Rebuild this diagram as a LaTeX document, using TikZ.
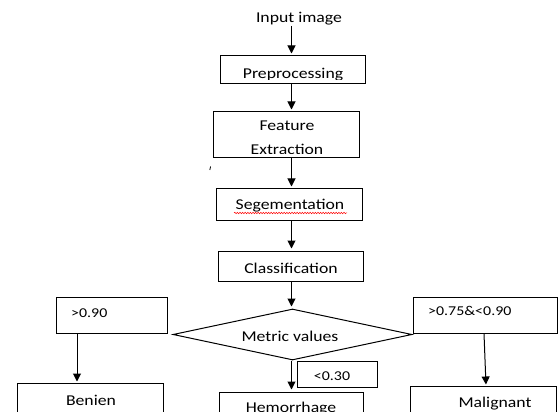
\documentclass[tikz,border=0pt]{standalone}
\usepackage{fontspec}
\setmainfont{Carlito}[FakeStretch=1.18]
\usetikzlibrary{arrows.meta,shapes.geometric,decorations.pathmorphing}
\begin{document}
\begin{tikzpicture}[x=1pt,y=-1pt,
  box/.style={draw,line width=1pt,rectangle,inner sep=0pt},
  txt/.style={inner sep=0pt,anchor=base,font=\fontsize{15}{18}\selectfont},
  smalltxt/.style={inner sep=0pt,anchor=base,font=\fontsize{13.5}{16}\selectfont},
  arr/.style={line width=1pt,-{Triangle[width=8pt,length=8pt]},shorten >=2pt}]
\useasboundingbox (0,0) rectangle (558,412);
\coordinate (col) at (291.5,0);
\coordinate (bcol) at (77,0);
\coordinate (mcolA) at (484,0);
\coordinate (mcolB) at (486,0);

% boxes
\node[box,minimum width=145pt,minimum height=28pt] (prep) at (292.5,70) {};
\node[box,minimum width=146pt,minimum height=46pt] (feat) at (286,135) {};
\node[box,minimum width=146pt,minimum height=32pt] (seg) at (289,205) {};
\node[box,minimum width=145pt,minimum height=30pt] (cls) at (290.5,266) {};
\node[draw,line width=1pt,diamond,inner sep=0pt,minimum width=239pt,minimum height=51pt] (metric) at (292.5,334.5) {};
\node[box,minimum width=111pt,minimum height=36pt] (t90) at (111.5,315) {};
\node[box,minimum width=144pt,minimum height=36pt] (t75) at (485,315) {};
\node[box,minimum width=80pt,minimum height=26pt] (t30) at (337,374) {};
\node[box,minimum width=146pt,minimum height=50pt] (ben) at (90,408) {};
\node[box,minimum width=144pt,minimum height=50pt] (hem) at (291,417) {};
\node[box,minimum width=146pt,minimum height=50pt] (mal) at (483,411) {};

% texts
\node[txt] (tinp) at (299,23) {Input image};
\begin{scope}
  \clip (220,56) rectangle (365,79.5);
  \node[txt] (tprep) at (293,78.5) {Preprocessing};
\end{scope}
\node[txt] (tfeat) at (287,131) {Feature};
\begin{scope}
  \clip (213,112) rectangle (359,153.5);
  \node[txt] (textr) at (287,154.5) {Extraction};
\end{scope}
\node[txt] (tseg) at (290,210) {Segementation};
\draw[red,line width=0.5pt,decorate,decoration={snake,amplitude=0.7pt,segment length=2.6pt}] (234,213) -- (347,213);
\node[txt] (tcls) at (291,273) {Classification};
\node[txt] (tmetric) at (290,341) {Metric values};
\node[smalltxt,anchor=base west] (t90t) at (71,317) {>0.90};
\node[smalltxt,anchor=base west] (t75t) at (428,316) {>0.75\&<0.90};
\node[smalltxt] (t30t) at (332,380) {<0.30};
\node[txt] (tben) at (91,405) {Benien};
\node[txt] (them) at (291,412) {Hemorrhage};
\node[txt] (tmal) at (495,407) {Malignant};

% stray mark
\draw[line width=0.8pt] (210.6,166.5) -- (209.8,170);

% connectors
\draw[arr] (tinp.south -| col) -- (prep.north -| col);
\draw[arr] (prep.south -| col) -- (feat.north -| col);
\draw[arr] (feat.south -| col) -- (seg.north -| col);
\draw[arr] (seg.south -| col) -- (cls.north -| col);
\draw[arr] (cls.south -| col) -- (metric.north -| col);
\draw[arr] (metric.south -| col) -- (hem.north -| col);
\draw[arr,shorten >=1pt] (t90.south -| bcol) -- (ben.north -| bcol);
\draw[arr,shorten >=1pt] (t75.south -| mcolA) -- (mal.north -| mcolB);
\end{tikzpicture}
\end{document}
